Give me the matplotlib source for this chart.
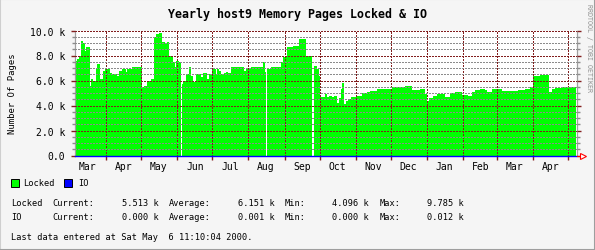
import numpy as np
import pandas as pd
import matplotlib
matplotlib.use("Agg")
import matplotlib.pyplot as plt
import matplotlib.dates as mdates
from matplotlib.patches import Rectangle
from matplotlib.ticker import FixedLocator, FixedFormatter, MultipleLocator, NullFormatter

# time window of the yearly graph
start = pd.Timestamp("1999-03-05 10:00")
end = pd.Timestamp("2000-05-07 22:00")

# Locked pages: step series, day offset from start -> value (thousands of pages)
locked_days = [
    0.0, 1.7, 3.4, 5.1, 6.9, 8.6, 9.4, 12.9, 13.7, 15.4, 18.0, 18.9, 21.4, 24.0,
    25.7, 30.0, 31.7, 36.0, 37.7, 40.3, 43.7, 44.6, 48.8, 57.4, 59.1, 61.7, 65.1,
    67.7, 69.4, 72.0, 74.6, 77.1, 78.8, 80.6, 82.3, 84.0, 85.7, 86.6, 89.1, 90.8,
    91.7, 92.6, 95.1, 97.7, 99.4, 101.1, 103.7, 108.0, 109.7, 113.1, 114.8, 117.4,
    120.8, 121.7, 123.4, 125.1, 127.7, 129.4, 131.1, 133.7, 144.8, 146.5, 150.8,
    161.1, 162.8, 163.7, 164.5, 168.0, 176.5, 178.3, 181.7, 186.8, 192.0, 198.0,
    198.8, 203.1, 204.8, 207.4, 209.1, 210.0, 214.2, 216.0, 217.7, 220.3, 222.0,
    224.5, 226.2, 228.0, 228.8, 230.5, 232.2, 234.0, 236.5, 241.7, 246.0, 250.3,
    252.8, 258.8, 269.1, 271.7, 282.8, 288.8, 295.7, 300.0, 301.7, 303.4, 306.8,
    310.3, 317.1, 321.4, 325.7, 331.7, 336.8, 340.2, 342.8, 347.1, 351.4, 353.1,
    357.4, 366.0, 374.5, 379.7, 385.7, 390.0, 392.6, 398.6, 406.3, 408.9, 411.5,
    417.5,
]
locked_k = [
    7.6, 7.7, 8.0, 9.2, 9.0, 8.4, 8.7, 5.6, 6.1, 6.0, 6.9, 7.3, 6.1, 6.8,
    6.9, 6.6, 6.5, 6.4, 6.8, 6.9, 6.7, 6.9, 7.1, 5.5, 5.6, 6.0, 6.1,
    9.5, 9.75, 9.8, 9.1, 8.9, 9.1, 8.0, 7.95, 7.5, 7.1, 7.6, 7.5, 0.0,
    5.7, 6.0, 6.5, 7.1, 6.4, 5.9, 6.5, 6.3, 6.6, 6.1, 6.5, 6.9,
    6.5, 6.9, 6.8, 6.5, 6.6, 6.7, 6.6, 7.1, 6.8, 7.0, 7.1,
    7.5, 6.7, 0.0, 6.9, 7.1, 7.5, 7.9, 8.7, 8.75, 9.35, 7.9,
    8.0, 0.0, 7.2, 6.9, 6.35, 4.65, 4.9, 4.7, 4.8, 4.65, 4.75,
    4.2, 4.6, 5.3, 5.8, 4.1, 4.4, 4.55, 4.65, 4.75, 5.0, 5.1,
    5.15, 5.3, 5.35, 5.5, 5.6, 5.25, 5.3, 4.9, 4.35, 4.6, 4.8,
    4.9, 4.7, 5.0, 5.05, 4.85, 4.75, 5.1, 5.25, 5.35, 5.25, 5.1,
    5.35, 5.15, 5.2, 5.25, 5.3, 5.45, 6.35, 6.45, 5.1, 5.3, 5.4,
    5.5,
]

# IO pages: practically zero the whole year
io_days = [0.0, 429.5]
io_vals = [0.0, 0.0]

month_starts = pd.date_range("1999-04-01", "2000-05-01", freq="MS")
month_mids = pd.date_range("1999-03-01", "2000-04-01", freq="MS") + pd.Timedelta(days=15)
month_labels = ["Mar", "Apr", "May", "Jun", "Jul", "Aug", "Sep",
                "Oct", "Nov", "Dec", "Jan", "Feb", "Mar", "Apr"]
ytick_vals = [0, 2000, 4000, 6000, 8000, 10000]
ytick_labels = ["0.0", "2.0 k", "4.0 k", "6.0 k", "8.0 k", "10.0 k"]

stats_rows = [
    ("Locked", "5.513 k", "6.151 k", "4.096 k", "9.785 k"),
    ("IO", "0.000 k", "0.001 k", "0.000 k", "0.012 k"),
]

W, H = 595, 251
MONO = "DejaVu Sans Mono"
MGRID = "#821E1E"
GRID = "#8C8C8C"

fig = plt.figure(figsize=(W / 100, H / 100), dpi=100, facecolor="#F5F5F5")
ax = fig.add_axes([75 / W, 1 - 156.5 / H, 501.5 / W, 125 / H])
ax.set_facecolor("white")

t = (start + pd.to_timedelta(locked_days + [429.5], unit="D")).to_numpy()
v = np.array(locked_k + [locked_k[-1]]) * 1000
ax.fill_between(t, v, step="post", color="#00FF00", lw=0, zorder=1, antialiased=False)

io_t = (start + pd.to_timedelta(io_days, unit="D")).to_numpy()
ax.plot(io_t, io_vals, color="#0000FF", lw=1.0, zorder=4, clip_on=False)

ax.set_xlim(start.to_numpy(), end.to_numpy())
ax.set_ylim(0, 10000)

# x axis: red ticks at month starts, labels mid-month
ax.xaxis.set_major_locator(FixedLocator(mdates.date2num(month_starts.to_numpy())))
ax.xaxis.set_major_formatter(NullFormatter())
ax.xaxis.set_minor_locator(FixedLocator(mdates.date2num(month_mids.to_numpy())))
ax.xaxis.set_minor_formatter(FixedFormatter(month_labels))
ax.tick_params(axis="x", which="major", length=3, width=1, color=MGRID, direction="out")
ax.tick_params(axis="x", which="minor", length=0, pad=4, labelsize=7)

# y axis
ax.yaxis.set_major_locator(FixedLocator(ytick_vals))
ax.yaxis.set_major_formatter(FixedFormatter(ytick_labels))
ax.yaxis.set_minor_locator(MultipleLocator(500))
ax.tick_params(axis="y", which="major", length=3, width=1, color=MGRID,
               left=True, right=True, labelsize=7, pad=4)
ax.tick_params(axis="y", which="minor", length=2, width=1, color=GRID,
               left=True, right=True)
for lab in ax.get_xticklabels(minor=True) + ax.get_yticklabels():
    lab.set_family(MONO)

# dotted grid on top of the area
ax.set_axisbelow(False)
dots = dict(lw=0.72, linestyle=(0, (1.4, 1.4)), antialiased=False)
ax.xaxis.grid(True, which="major", color=MGRID, **dots)
ax.yaxis.grid(True, which="major", color=MGRID, **dots)
ax.yaxis.grid(True, which="minor", color=GRID, **dots)

for side in ("top", "bottom"):
    ax.spines[side].set_visible(False)
for side in ("left", "right"):
    ax.spines[side].set_color("#A0A0A0")
    ax.spines[side].set_linewidth(0.9)

# red arrow at the end of the time axis
ax.plot([1.0, 1.008], [0, 0], color="red", lw=0.8, transform=ax.transAxes, clip_on=False, zorder=5)
ax.plot([1.012], [0], marker=">", ms=5, mfc="white", mec="red", mew=0.8,
        transform=ax.transAxes, clip_on=False, zorder=5)


def put(x, y, s, **kw):
    kw.setdefault("family", MONO)
    kw.setdefault("va", "center")
    fig.text(x / W, 1 - y / H, s, **kw)


put(297.5, 14.5, "Yearly host9 Memory Pages Locked & IO", ha="center",
    fontsize=8.4, fontweight="bold")
put(13, 94, "Number Of Pages", rotation=90, ha="center", fontsize=6.4)
put(588.5, 48, "RRDTOOL / TOBI OETIKER", rotation=270, ha="center",
    fontsize=4.8, color="#909090")

# legend
for x0, col, name, tx in [(11, "#00FF00", "Locked", 23), (64, "#0000FF", "IO", 78)]:
    fig.add_artist(Rectangle((x0 / W, 1 - 187.5 / H), 7.5 / W, 7.5 / H,
                             transform=fig.transFigure, facecolor=col,
                             edgecolor="black", lw=0.7))
    put(tx, 184, name, fontsize=6.2)

for row, y in zip(stats_rows, [204, 218]):
    name, cur, avg, mn, mx = row
    put(11, y, name, fontsize=6.2)
    put(52, y, "Current:", fontsize=6.2)
    put(122, y, cur, fontsize=6.2)
    put(169, y, "Average:", fontsize=6.2)
    put(238, y, avg, fontsize=6.2)
    put(285, y, "Min:", fontsize=6.2)
    put(332, y, mn, fontsize=6.2)
    put(380, y, "Max:", fontsize=6.2)
    put(427, y, mx, fontsize=6.2)

put(11, 238, "Last data entered at Sat May  6 11:10:04 2000.", fontsize=6.2)

# 3d border around the canvas
fig.add_artist(plt.Line2D([0, 0, 1], [0, 1, 1], transform=fig.transFigure,
                          color="#CFCFCF", lw=1.5))
fig.add_artist(plt.Line2D([0, 1, 1], [0, 0, 1], transform=fig.transFigure,
                          color="#9E9E9E", lw=1.5))

fig.savefig("out.png", dpi=100, facecolor=fig.get_facecolor())
